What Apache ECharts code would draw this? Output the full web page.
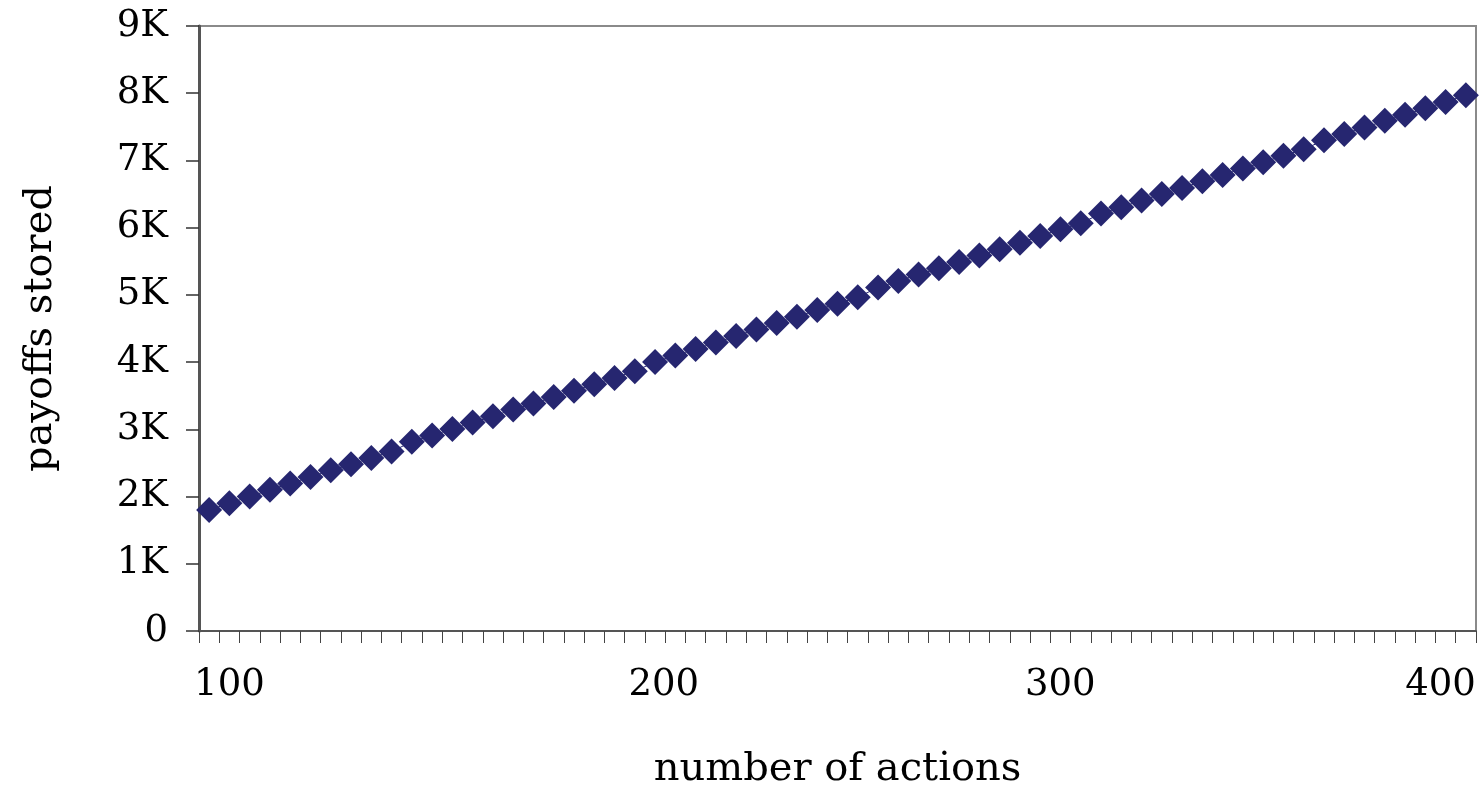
<!DOCTYPE html>
<html>
<head>
<meta charset="utf-8">
<script src="https://cdn.jsdelivr.net/npm/echarts@6/dist/echarts.min.js"></script>
<style>
  html, body { margin: 0; padding: 0; background: #ffffff; overflow: hidden; }
  #chart { width: 1480px; height: 785px; }
</style>
</head>
<body>
<div id="chart"></div>
<script>
// number of actions (categories)
const actions = [95, 100, 105, 110, 115, 120, 125, 130, 135, 140, 145,
  150, 155, 160, 165, 170, 175, 180, 185, 190, 195, 200,
  205, 210, 215, 220, 225, 230, 235, 240, 245, 250,
  255, 260, 265, 270, 275, 280, 285, 290, 295, 300, 305,
  310, 315, 320, 325, 330, 335, 340, 345, 350, 355,
  360, 365, 370, 375, 380, 385, 390, 395, 400, 405];
// payoffs stored
const payoffs = [1800, 1900, 2000, 2100, 2195, 2290, 2390, 2480, 2575, 2670, 2815,
  2910, 3005, 3100, 3195, 3295, 3385, 3480, 3575, 3670, 3765, 3865,
  4000, 4100, 4195, 4290, 4390, 4485, 4580, 4675, 4775, 4870,
  4965, 5110, 5205, 5305, 5395, 5490, 5585, 5680, 5775, 5875, 5975,
  6065, 6210, 6305, 6405, 6500, 6590, 6690, 6785, 6880, 6975,
  7070, 7165, 7300, 7395, 7490, 7590, 7680, 7775, 7870, 7970];
const xLabels = ['100', '200', '300', '400'];
const yTicks = [0, 1000, 2000, 3000, 4000, 5000, 6000, 7000, 8000, 9000];

const FONT = 'DejaVu Serif';
// horizontal shift (px of padding) of each x label, mimicking original placement
const labelShift = { '100': 0, '200': 58, '300': 40, '400': -10 };
const rich = {};
Object.keys(labelShift).forEach(function (k) {
  const s = labelShift[k];
  rich['p' + k] = { fontFamily: FONT, fontSize: 37, color: '#000', padding: s >= 0 ? [0, 0, 0, s] : [0, -s, 0, 0] };
});

const chart = echarts.init(document.getElementById('chart'), null, { renderer: 'canvas' });
chart.setOption({
  backgroundColor: '#ffffff',
  animation: false,
  grid: {
    left: 199, right: 4, top: 26, bottom: 154,
    containLabel: false, outerBoundsMode: 'none',
    show: true, borderColor: '#8a8a8a', borderWidth: 2, backgroundColor: 'transparent'
  },
  xAxis: {
    type: 'category',
    data: actions.map(String),
    boundaryGap: true,
    name: 'number of actions',
    nameLocation: 'middle',
    nameGap: 119,
    nameTextStyle: { fontFamily: FONT, fontSize: 40, color: '#000' },
    axisLine: { show: true, lineStyle: { color: '#555', width: 2 } },
    axisTick: { show: true, interval: 0, length: 12, lineStyle: { color: '#444', width: 1 } },
    axisLabel: {
      interval: function (idx, val) { return xLabels.indexOf(val) >= 0; },
      margin: 36,
      fontFamily: FONT, fontSize: 37, color: '#000',
      formatter: function (v) { return '{p' + v + '|' + v + '}'; },
      rich: rich
    },
    splitLine: { show: false }
  },
  yAxis: {
    type: 'value',
    min: 0, max: 9000, interval: 1000,
    name: 'payoffs stored',
    nameLocation: 'middle',
    nameGap: 138,
    nameRotate: 90,
    nameTextStyle: { fontFamily: FONT, fontSize: 40, color: '#000' },
    axisLine: { show: true, lineStyle: { color: '#555', width: 3 } },
    axisTick: { show: true, length: 13, lineStyle: { color: '#333', width: 1.5 } },
    axisLabel: {
      margin: 31,
      fontFamily: FONT, fontSize: 37, color: '#000',
      formatter: function (v) { return yTicks.indexOf(v) >= 0 ? (v === 0 ? '0' : (v / 1000) + 'K') : ''; }
    },
    splitLine: { show: false }
  },
  series: [{
    type: 'line',
    data: payoffs,
    symbol: 'diamond',
    symbolSize: 26,
    showAllSymbol: true,
    itemStyle: { color: '#262670' },
    lineStyle: { color: '#262670', width: 1 }
  }]
});
</script>
</body>
</html>
